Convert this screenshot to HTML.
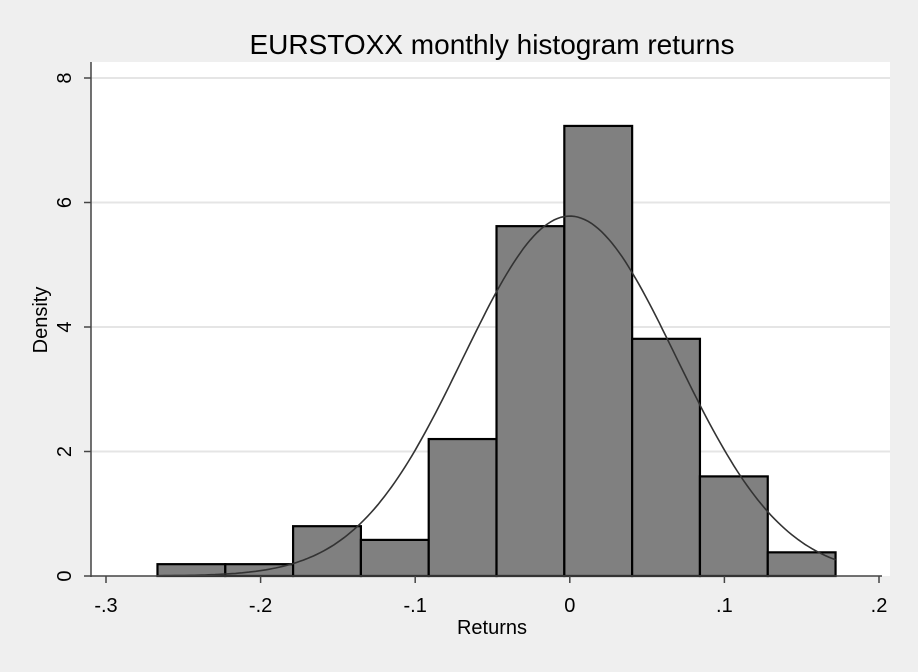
<!DOCTYPE html>
<html><head><meta charset="utf-8"><style>
body{margin:0;background:#efefef;font-family:"Liberation Sans",sans-serif}
</style></head><body>
<svg width="918" height="667" xmlns="http://www.w3.org/2000/svg">
<rect x="0" y="0" width="918" height="667" fill="#efefef"/>
<rect x="91" y="62" width="799" height="514" fill="#ffffff"/>
<text x="492" y="54" font-size="28" text-anchor="middle" fill="#000">EURSTOXX monthly histogram returns</text>
<g id="grid"></g><g id="bars"></g><g id="curve"></g><g id="axes"></g>
<text x="492" y="634" font-size="20" text-anchor="middle">Returns</text>
<text transform="translate(47,320) rotate(-90)" font-size="20" text-anchor="middle">Density</text>
</svg>
<script>
const binStart = -0.2667;
const binWidth = 0.04386;
const densities = [0.19, 0.19, 0.8, 0.58, 2.2, 5.62, 7.23, 3.81, 1.6, 0.38];
const xTicks = [-0.3, -0.2, -0.1, 0, 0.1, 0.2];
const xTickLabels = ["-.3", "-.2", "-.1", "0", ".1", ".2"];
const yTicks = [0, 2, 4, 6, 8];
const normalMean = 0.0;
const normalSd = 0.069;
const NS="http://www.w3.org/2000/svg";
const X=v=>569.8+v*1546;
const Y=v=>576-v*62.25;
function mk(t,a,p){const e=document.createElementNS(NS,t);for(const k in a)e.setAttribute(k,a[k]);p.appendChild(e);return e;}
const grid=document.getElementById('grid'),bars=document.getElementById('bars'),curve=document.getElementById('curve'),axes=document.getElementById('axes');
yTicks.forEach(v=>{
  if(v>0){const g=mk('line',{x1:91,x2:890,y1:Y(v),y2:Y(v),stroke:'#e5e5e5','stroke-width':2},grid);
  
  }
  mk('line',{x1:84,x2:91,y1:Y(v),y2:Y(v),stroke:'#444','stroke-width':1.5},axes);
  const t=mk('text',{transform:`translate(71,${Y(v)}) rotate(-90)`,'font-size':20,'text-anchor':'middle'},axes);
  t.textContent=v;
  
  
});
densities.forEach((d,i)=>{
  const x0=X(binStart+i*binWidth),x1=X(binStart+(i+1)*binWidth);
  const r=mk('rect',{x:x0,y:Y(d),width:x1-x0,height:Y(0)-Y(d),fill:'#808080',stroke:'#000','stroke-width':2.2},bars);
  
  
});
let pts=[];
const lo=binStart,hi=binStart+densities.length*binWidth;
for(let k=0;k<=200;k++){const v=lo+(hi-lo)*k/200;const d=Math.exp(-0.5*((v-normalMean)/normalSd)**2)/(normalSd*Math.sqrt(2*Math.PI));pts.push(X(v).toFixed(1)+','+Y(d).toFixed(1));}
const pl=mk('polyline',{points:pts.join(' '),fill:'none',stroke:'#333','stroke-width':1.6},curve);


mk('line',{x1:91,x2:91,y1:62,y2:577,stroke:'#444','stroke-width':1.5},axes);
mk('line',{x1:91,x2:882,y1:576,y2:576,stroke:'#444','stroke-width':1.5},axes);
xTicks.forEach((v,i)=>{
  mk('line',{x1:X(v),x2:X(v),y1:576,y2:583,stroke:'#444','stroke-width':1.5},axes);
  const t=mk('text',{x:X(v),y:612,'font-size':20,'text-anchor':'middle'},axes);
  t.textContent=xTickLabels[i];
  
  
});
</script>
</body></html>
